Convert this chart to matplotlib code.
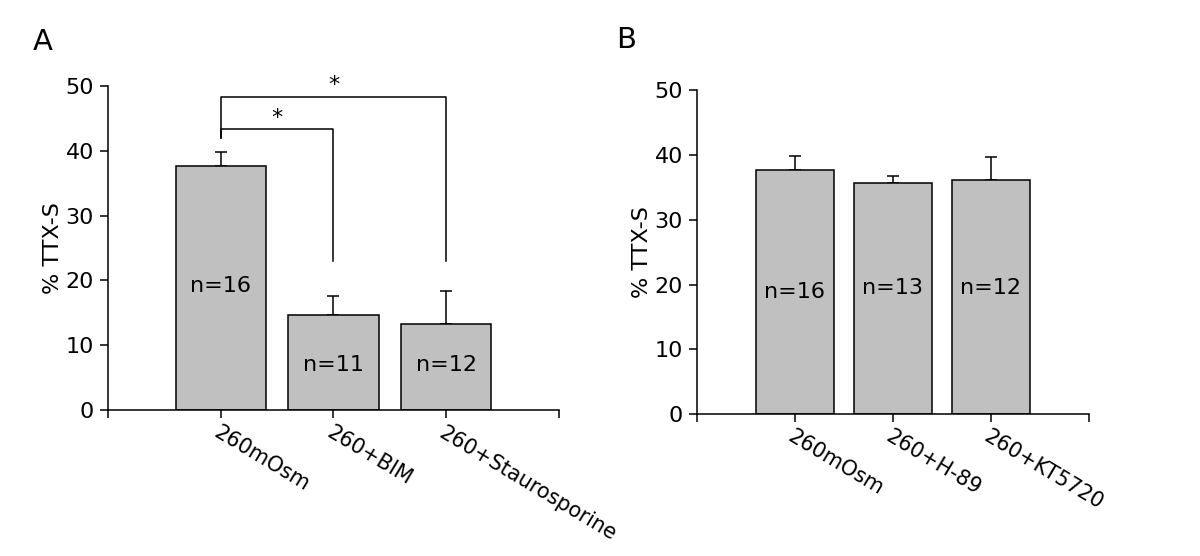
import matplotlib.pyplot as plt
import numpy as np

plt.rcParams['font.family'] = ['DejaVu Sans']

# panel A
labels_a = ['260mOsm', '260+BIM', '260+Staurosporine']
means_a = [37.7, 14.6, 13.2]
sem_a = [2.1, 3.0, 5.1]
n_a = ['n=16', 'n=11', 'n=12']
n_y_a = [19.2, 6.9, 6.9]

# panel B
labels_b = ['260mOsm', '260+H-89', '260+KT5720']
means_b = [37.7, 35.7, 36.1]
sem_b = [2.2, 1.1, 3.6]
n_b = ['n=16', 'n=13', 'n=12']
n_y_b = [18.9, 19.5, 19.5]

# significance brackets in A: (from bar, to bar, bracket height, leg bottom)
brackets = [(0, 1, 43.4, 23.0), (0, 2, 48.3, 23.0)]
stars_y = [45.0, 50.2]

FS = 16

fig = plt.figure(figsize=(12, 5.56), dpi=100)
ax_a = fig.add_axes([0.090, 0.2626, 0.3758, 0.5827])
ax_b = fig.add_axes([0.5808, 0.2549, 0.3267, 0.5832])


def draw_panel(ax, labels, means, sem, ns, ny):
    x = np.arange(1, len(means) + 1)
    ax.bar(x, means, width=0.8, color='#c0c0c0', edgecolor='black',
           linewidth=1.1, zorder=2)
    ax.errorbar(x, means, yerr=[np.zeros(len(sem)), sem], fmt='none',
                ecolor='black', elinewidth=1.1, capsize=4.3, capthick=1.1,
                zorder=1)
    for xi, s, yi in zip(x, ns, ny):
        ax.text(xi, yi, s, ha='center', va='center', fontsize=FS)
    ax.set_xlim(0, 4)
    ax.set_ylim(0, 50)
    ax.set_yticks(range(0, 51, 10))
    ax.set_xticks([0, 1, 2, 3, 4])
    ax.set_xticklabels([''] + labels + [''], rotation=-31, ha='left',
                       va='top', rotation_mode='anchor', fontsize=15)
    ax.tick_params(axis='both', direction='out', length=6, width=1.1,
                   labelsize=FS, pad=4)
    ax.tick_params(axis='x', labelsize=15, pad=3)
    for side in ['top', 'right']:
        ax.spines[side].set_visible(False)
    for side in ['left', 'bottom']:
        ax.spines[side].set_linewidth(1.1)
    ax.set_ylabel('% TTX-S', fontsize=FS, labelpad=2)


draw_panel(ax_a, labels_a, means_a, sem_a, n_a, n_y_a)
draw_panel(ax_b, labels_b, means_b, sem_b, n_b, n_y_b)

for (i, j, h, low), sy in zip(brackets, stars_y):
    ax_a.plot([i + 1, i + 1, j + 1, j + 1], [42.0, h, h, low], color='black',
              linewidth=1.1, clip_on=False)
    ax_a.text((i + j) / 2 + 1, sy, '*', ha='center', va='center',
              fontsize=FS, clip_on=False)

fig.text(0.036, 0.925, 'A', fontsize=21, ha='center', va='center')
fig.text(0.522, 0.928, 'B', fontsize=21, ha='center', va='center')

fig.savefig('out.png', dpi=100)
